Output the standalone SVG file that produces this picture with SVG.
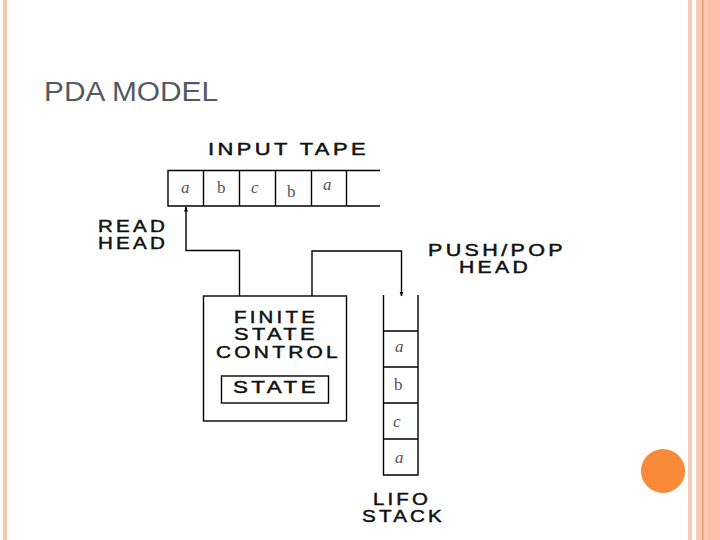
<svg xmlns="http://www.w3.org/2000/svg" width="720" height="540" viewBox="0 0 720 540">
<style>
.ln{stroke:#000;stroke-width:1.4;fill:none}
.lbl{font-family:"Liberation Sans",Arial,sans-serif;font-weight:normal;font-size:16px;fill:#111;stroke:#111;stroke-width:0.45;letter-spacing:2.5px}
.sym{font-family:"Liberation Serif","Times New Roman",serif;font-size:17px;fill:#555}
.it{font-style:italic}
</style>
<defs>
<marker id="ah" viewBox="0 0 10 10" refX="9" refY="5" markerWidth="5" markerHeight="5" orient="auto" markerUnits="userSpaceOnUse">
<path d="M0,1 L10,5 L0,9 z" fill="#000"/>
</marker>
</defs>
<rect width="720" height="540" fill="#fff"/>
<g id="frame">
<rect x="3" y="0" width="4" height="540" fill="#f9c8b2"/>
<rect x="688" y="0" width="4" height="540" fill="#f9cbb6"/>
<rect x="696" y="0" width="24" height="540" fill="#fcc9b4"/>
<rect x="702" y="0" width="1.5" height="540" fill="#e59a6c"/>
<rect x="708" y="0" width="12" height="540" fill="#fdbfaa"/>
<circle cx="663" cy="471" r="22" fill="#f98a39"/>
</g>
<text x="44" y="101" font-family="Liberation Sans,Arial,sans-serif" font-size="27" fill="#545a61" textLength="174" lengthAdjust="spacingAndGlyphs">PDA MODEL</text>
<g id="input-tape">
<text class="lbl" x="208" y="155" textLength="161" lengthAdjust="spacingAndGlyphs" font-size="17.5">INPUT  TAPE</text>
<path class="ln" d="M380,170.5 H168 V206 H380 M203.5,170.5 V206 M239.5,170.5 V206 M275.5,170.5 V206 M311.5,170.5 V206 M346.5,170.5 V206"/>
<text class="sym it" x="181" y="193">a</text>
<text class="sym" x="217" y="193">b</text>
<text class="sym it" x="251" y="193">c</text>
<text class="sym" x="287" y="197">b</text>
<text class="sym it" x="323" y="190">a</text>
</g>
<g id="read-head">
<text class="lbl" x="98" y="232" textLength="70" lengthAdjust="spacingAndGlyphs">READ</text>
<text class="lbl" x="98" y="249" textLength="70" lengthAdjust="spacingAndGlyphs">HEAD</text>
</g>
<g id="push-pop-head">
<text class="lbl" x="428" y="256" textLength="138" lengthAdjust="spacingAndGlyphs">PUSH/POP</text>
<text class="lbl" x="459" y="273" textLength="72" lengthAdjust="spacingAndGlyphs">HEAD</text>
</g>
<g id="finite-state-control">
<rect class="ln" x="203.5" y="296" width="143" height="125"/>
<text class="lbl" x="234" y="323" textLength="84" lengthAdjust="spacingAndGlyphs">FINITE</text>
<text class="lbl" x="234" y="340" textLength="84" lengthAdjust="spacingAndGlyphs">STATE</text>
<text class="lbl" x="216" y="358" textLength="125" lengthAdjust="spacingAndGlyphs">CONTROL</text>
</g>
<g id="state">
<rect class="ln" x="221.5" y="376" width="107" height="27"/>
<text class="lbl" x="233" y="393" textLength="86" lengthAdjust="spacingAndGlyphs">STATE</text>
</g>
<g id="stack">
<path class="ln" d="M383.5,295 V475 H418 V295 M383.5,331 H418 M383.5,367 H418 M383.5,403 H418 M383.5,439 H418"/>
<text class="sym it" x="395" y="352">a</text>
<text class="sym" x="394" y="390">b</text>
<text class="sym it" x="393" y="427">c</text>
<text class="sym it" x="395" y="463">a</text>
<text class="lbl" x="373" y="505" textLength="58" lengthAdjust="spacingAndGlyphs">LIFO</text>
<text class="lbl" x="362" y="522" textLength="83" lengthAdjust="spacingAndGlyphs">STACK</text>
</g>
<g id="connectors">
<path class="ln" d="M239.5,296 V250.5 H186 V207" marker-end="url(#ah)"/>
<path class="ln" d="M312,296 V251 H401.5 V296" marker-end="url(#ah)"/>
</g>
</svg>
